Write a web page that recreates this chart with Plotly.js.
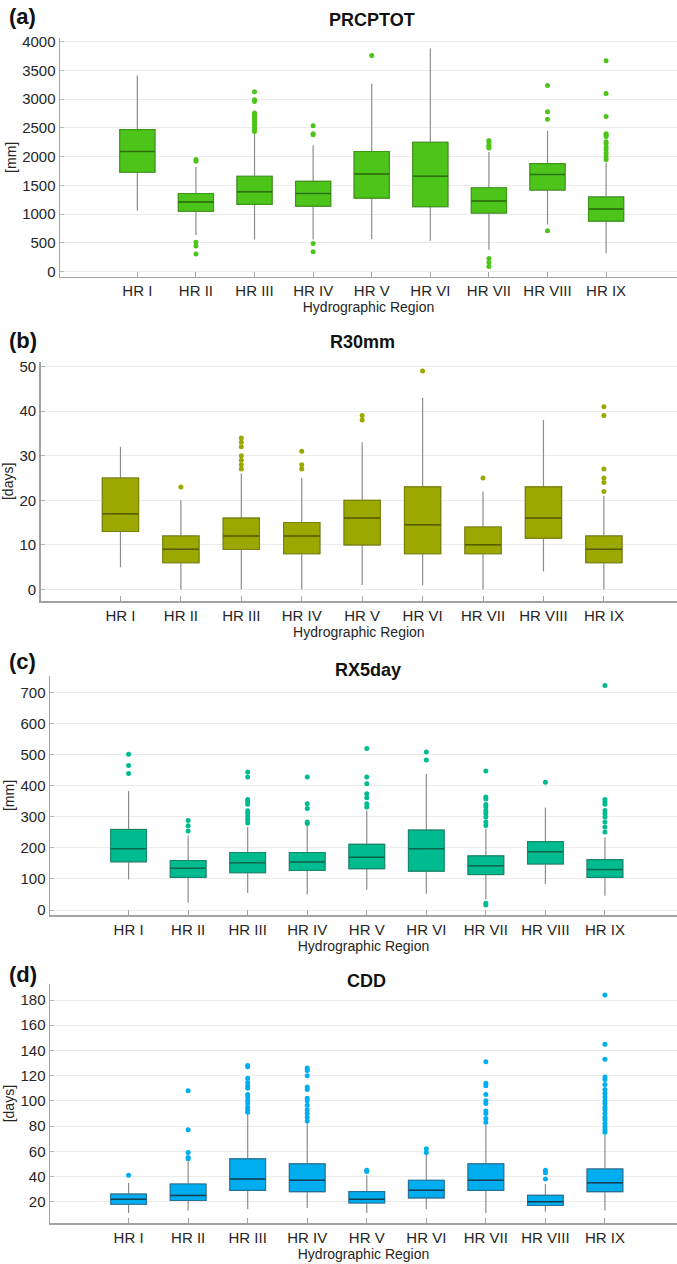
<!DOCTYPE html>
<html>
<head>
<meta charset="utf-8">
<script src="https://cdn.plot.ly/plotly-3.0.1.min.js"></script>
<style>
  html, body { margin: 0; padding: 0; background: #ffffff; }
  #chart { width: 677px; height: 1264px; }
</style>
</head>
<body>
<div id="chart"></div>
<script>
// ---------------- DATA ----------------
const categories = ['HR I', 'HR II', 'HR III', 'HR IV', 'HR V', 'HR VI', 'HR VII', 'HR VIII', 'HR IX'];

// (a) PRCPTOT [mm]
const prcLower  = [1060, 640, 560, 560, 570, 540, 380, 820, 320];
const prcQ1     = [1730, 1050, 1170, 1140, 1280, 1130, 1020, 1420, 880];
const prcMedian = [2090, 1210, 1390, 1360, 1700, 1660, 1230, 1690, 1090];
const prcQ3     = [2470, 1360, 1660, 1570, 2090, 2250, 1460, 1880, 1300];
const prcUpper  = [3410, 1820, 2420, 2200, 3270, 3880, 2080, 2450, 1900];
const prcOutliers = [
  [],
  [1950, 1920, 510, 447, 307],
  [3130, 2990, 2960, 2760, 2730, 2700, 2670, 2640, 2600, 2560, 2520, 2480, 2440],
  [2540, 2400, 2380, 490, 348],
  [3760],
  [],
  [2280, 2250, 2200, 2170, 2150, 230, 160, 90],
  [3240, 2780, 2650, 710],
  [3670, 3100, 2700, 2400, 2380, 2350, 2260, 2230, 2170, 2120, 2060, 2000, 1950]
];

// (b) R30mm [days]
const r30Lower  = [5, 0, 0, 0, 1, 1, 0, 4, 0];
const r30Q1     = [13, 6, 9, 8, 10, 8, 8, 11.5, 6];
const r30Median = [17, 9, 12, 12, 16, 14.5, 10, 16, 9];
const r30Q3     = [25, 12, 16, 15, 20, 23, 14, 23, 12];
const r30Upper  = [32, 20, 26, 25, 33, 43, 22, 38, 21];
const r30Outliers = [
  [],
  [23],
  [27, 28, 29, 30, 32, 33, 34],
  [27, 28, 31],
  [38, 39],
  [49],
  [25],
  [],
  [22, 24, 25, 27, 39, 41]
];

// (c) RX5day [mm]
const rx5Lower  = [98, 23, 55, 50, 65, 52, 35, 84, 46];
const rx5Q1     = [155, 105, 120, 127, 133, 125, 114, 148, 105];
const rx5Median = [197, 134, 152, 154, 170, 197, 142, 187, 130];
const rx5Q3     = [259, 159, 185, 185, 211, 257, 174, 220, 162];
const rx5Upper  = [383, 239, 267, 275, 320, 437, 261, 330, 234];
const rx5Outliers = [
  [501, 465, 439],
  [288, 271, 254],
  [444, 428, 355, 348, 340, 319, 310, 300, 290, 280],
  [428, 342, 326, 283, 278],
  [519, 428, 406, 374, 361, 342, 331],
  [508, 482],
  [447, 363, 357, 339, 332, 320, 310, 299, 283, 272, 22, 16],
  [411],
  [722, 355, 348, 340, 320, 310, 299, 283, 267, 251]
];

// (d) CDD [days]
const cddLower  = [11, 13, 14, 15, 11, 14, 11, 12, 13];
const cddQ1     = [18, 21, 29, 28, 19, 23, 29, 17, 28];
const cddMedian = [22, 25, 38, 37, 22, 29, 37, 20, 35];
const cddQ3     = [26, 34, 54, 50, 28, 37, 50, 25, 46];
const cddUpper  = [35, 52, 90, 83, 41, 58, 81, 34, 73];
const cddOutliers = [
  [41],
  [108, 77, 59, 55, 54],
  [128, 127, 118, 114.5, 112, 110, 105, 103, 100, 98, 95, 93, 91],
  [126, 124, 120, 111, 109, 102, 100, 96.6, 93, 90, 87, 84],
  [45, 44],
  [62, 59],
  [131, 114, 112, 105, 100, 98, 92, 90, 86, 83],
  [45, 43, 38],
  [184, 145, 133, 119, 117, 113, 109, 106, 103, 100, 98, 95, 93, 90, 87, 85, 82, 79.5, 77, 75]
];

const panelTitles = ['PRCPTOT', 'R30mm', 'RX5day', 'CDD'];
const panelLabels = ['(a)', '(b)', '(c)', '(d)'];
const unitLabels  = ['[mm]', '[days]', '[mm]', '[days]'];
const xTitle = 'Hydrographic Region';

// ---------------- STYLE / LAYOUT ----------------
const W = 677, H = 1264;
const FONT = 'Liberation Sans, Arial, Helvetica, sans-serif';

const panels = [
  { lo: prcLower, q1: prcQ1, med: prcMedian, q3: prcQ3, hi: prcUpper, out: prcOutliers,
    fill: '#4dc41a', edge: '#3b9614', medc: '#2b6e0c',
    left: 60, top: 38, bottom: 276.7, yrange: [-87, 4064], dtick: 500,
    labelY: 17, titleX: 372, titleY: 20 },
  { lo: r30Lower, q1: r30Q1, med: r30Median, q3: r30Q3, hi: r30Upper, out: r30Outliers,
    fill: '#9aa800', edge: '#788300', medc: '#555d00',
    left: 40.7, top: 361.7, bottom: 601, yrange: [-2.6, 51.1], dtick: 10,
    labelY: 340, titleX: 362, titleY: 342 },
  { lo: rx5Lower, q1: rx5Q1, med: rx5Median, q3: rx5Q3, hi: rx5Upper, out: rx5Outliers,
    fill: '#00bb8f', edge: '#13896c', medc: '#0a6a52',
    left: 50, top: 675.7, bottom: 915.3, yrange: [-17, 753.4], dtick: 100,
    labelY: 661, titleX: 368, titleY: 670 },
  { lo: cddLower, q1: cddQ1, med: cddMedian, q3: cddQ3, hi: cddUpper, out: cddOutliers,
    fill: '#00aeef', edge: '#22739a', medc: '#123f55',
    left: 50, top: 984, bottom: 1223.3, yrange: [2.87, 192.7], dtick: 20,
    labelY: 974, titleX: 367, titleY: 981 }
];

const traces = [];
const layout = {
  width: W, height: H,
  margin: { l: 0, r: 0, t: 0, b: 0 },
  paper_bgcolor: '#ffffff', plot_bgcolor: '#ffffff',
  showlegend: false,
  boxmode: 'overlay',
  font: { family: FONT, color: '#262626' },
  annotations: []
};

panels.forEach((p, i) => {
  const s = i === 0 ? '' : String(i + 1);
  const xa = 'x' + s, ya = 'y' + s;

  const common = { type: 'box', x: categories, xaxis: xa, yaxis: ya, width: 0.6,
    boxpoints: false, whiskerwidth: 0, hoverinfo: 'skip', showlegend: false };

  // whiskers (gray)
  traces.push(Object.assign({}, common, {
    q1: p.q1, median: p.med, q3: p.q3, lowerfence: p.lo, upperfence: p.hi,
    fillcolor: 'rgba(0,0,0,0)', line: { color: '#8c8c8c', width: 1.2 }
  }));
  // filled box
  traces.push(Object.assign({}, common, {
    q1: p.q1, median: p.med, q3: p.q3, lowerfence: p.q1, upperfence: p.q3,
    fillcolor: p.fill, line: { color: p.edge, width: 1.1 }
  }));
  // median line
  traces.push(Object.assign({}, common, {
    q1: p.med, median: p.med, q3: p.med, lowerfence: p.med, upperfence: p.med,
    fillcolor: 'rgba(0,0,0,0)', line: { color: p.medc, width: 1.5 }
  }));
  // outliers
  const ox = [], oy = [];
  p.out.forEach((vals, k) => vals.forEach(v => { ox.push(categories[k]); oy.push(v); }));
  traces.push({ type: 'scatter', mode: 'markers', x: ox, y: oy, xaxis: xa, yaxis: ya,
    marker: { color: p.fill, size: 5 }, hoverinfo: 'skip', showlegend: false });

  layout['xaxis' + s] = {
    domain: [p.left / W, 1], anchor: ya,
    type: 'category', categoryorder: 'array', categoryarray: categories,
    range: [-1.32, 9.21],
    showline: true, linecolor: '#a3a3a3', linewidth: 1.5, mirror: false,
    ticks: 'inside', ticklen: 5, tickcolor: '#a3a3a3', tickwidth: 1,
    showgrid: false, zeroline: false,
    tickfont: { size: 15, family: FONT, color: '#262626' },
    title: { text: xTitle, font: { size: 14, family: FONT, color: '#262626' }, standoff: 4 },
    fixedrange: true
  };
  layout['yaxis' + s] = {
    domain: [1 - p.bottom / H, 1 - p.top / H], anchor: xa,
    range: p.yrange, dtick: p.dtick, tick0: 0,
    showline: true, linecolor: '#a3a3a3', linewidth: 1.5,
    ticks: 'inside', ticklen: 4, tickcolor: '#b5b5b5',
    showgrid: true, gridcolor: '#ebebeb', gridwidth: 1, zeroline: false,
    tickfont: { size: 15, family: FONT, color: '#262626' },
    title: { text: unitLabels[i], font: { size: 14, family: FONT, color: '#262626' }, standoff: 2 },
    fixedrange: true
  };

  layout.annotations.push({
    text: '<b>' + panelLabels[i] + '</b>', xref: 'paper', yref: 'paper',
    x: 7 / W, y: 1 - p.labelY / H, xanchor: 'left', yanchor: 'middle',
    showarrow: false, font: { size: 22, family: FONT, color: '#111111' }
  });
  layout.annotations.push({
    text: '<b>' + panelTitles[i] + '</b>', xref: 'paper', yref: 'paper',
    x: p.titleX / W, y: 1 - p.titleY / H, xanchor: 'center', yanchor: 'middle',
    showarrow: false, font: { size: 18, family: FONT, color: '#111111' }
  });
});

Plotly.newPlot('chart', traces, layout, { displayModeBar: false, staticPlot: true });
</script>
</body>
</html>
